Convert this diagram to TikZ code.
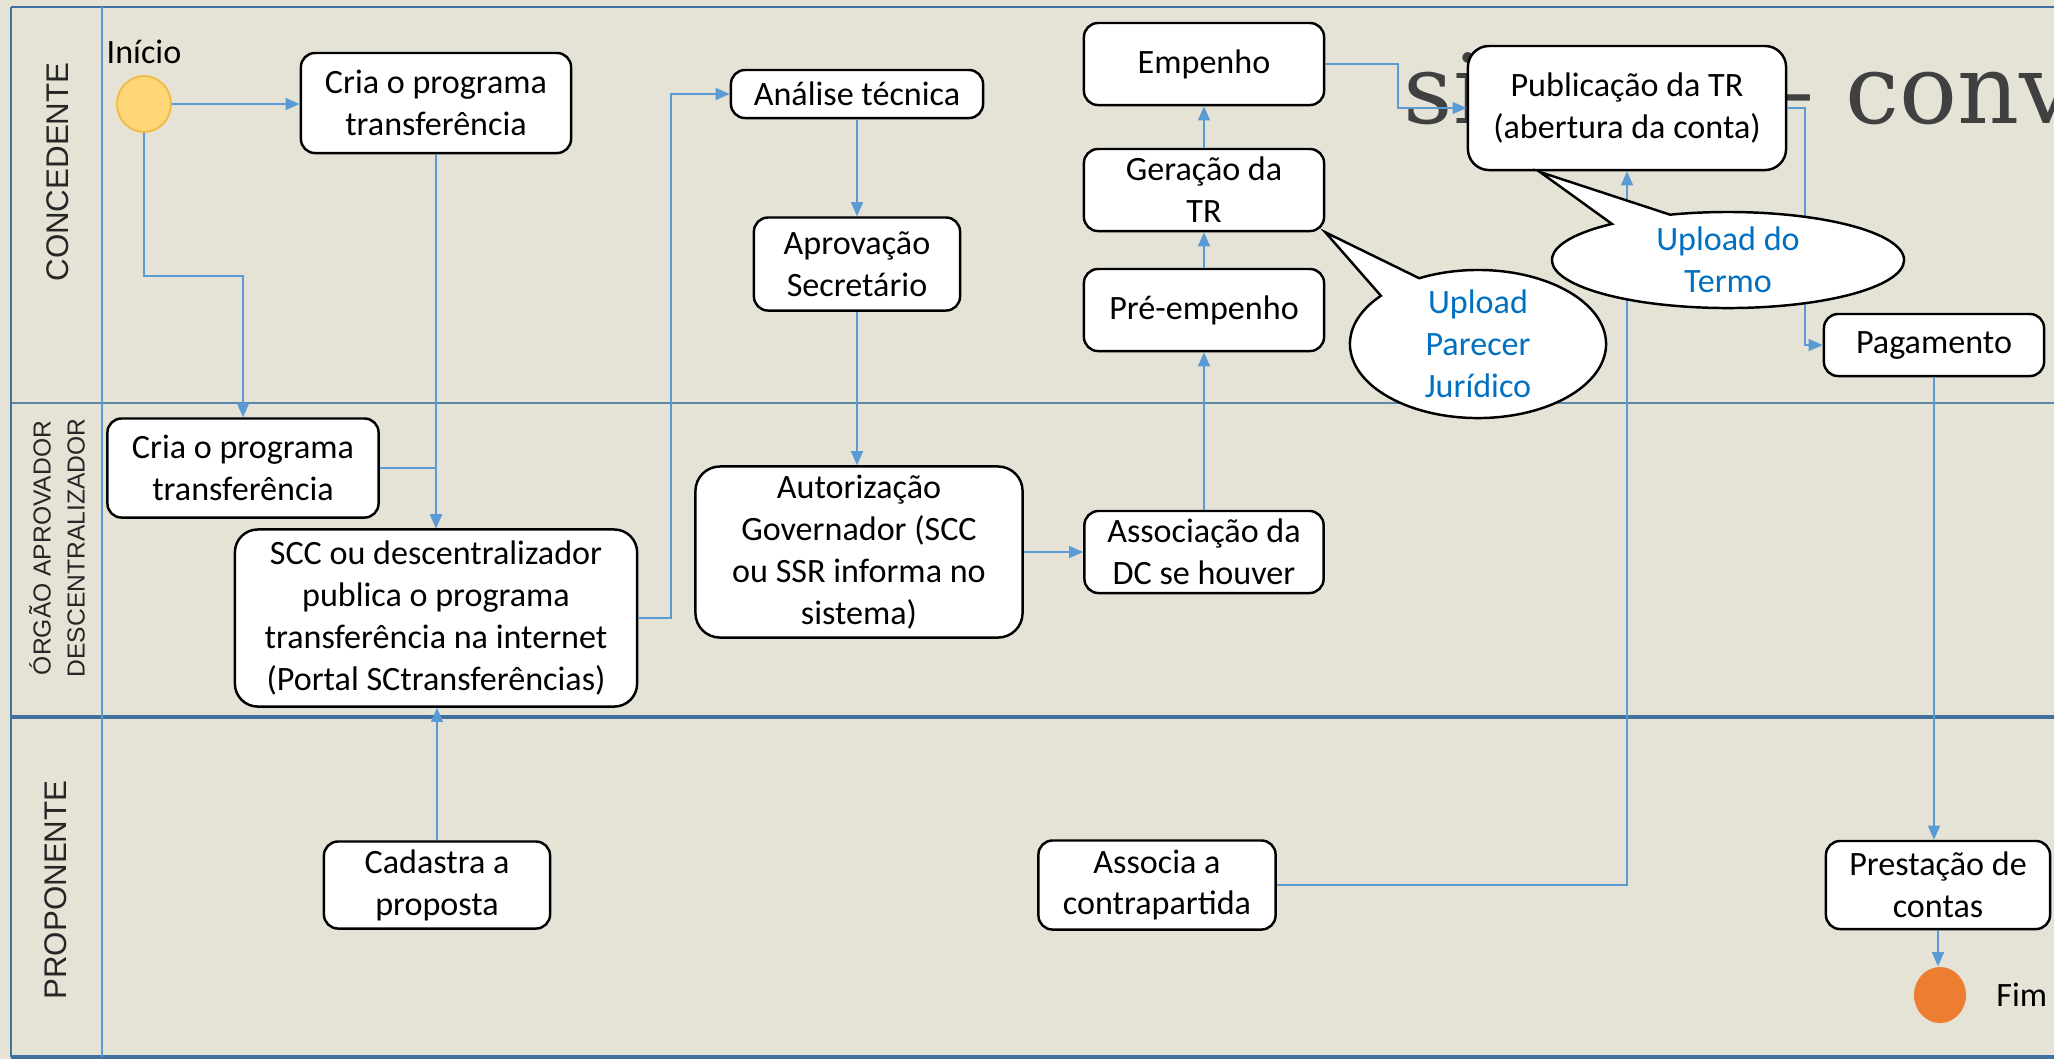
\documentclass[tikz,border=0pt]{standalone}
\usepackage{fontspec}
\setmainfont{Carlito}
\newfontfamily\lanefont{Liberation Sans}
\newfontfamily\titlefont{DejaVu Serif}
\usetikzlibrary{arrows.meta,shapes.geometric,shapes.callouts}
\definecolor{paper}{RGB}{229,226,214}
\definecolor{laneblue}{RGB}{65,113,156}
\definecolor{flowblue}{RGB}{91,155,213}
\definecolor{notetext}{RGB}{0,112,192}
\definecolor{startfill}{RGB}{255,214,120}
\definecolor{startline}{RGB}{244,185,66}
\definecolor{endfill}{RGB}{237,125,49}
\definecolor{titlegrey}{RGB}{64,64,64}

\begin{document}
\begin{tikzpicture}[x=0.01cm,y=-0.01cm,
    task/.style={draw=black,line width=0.7pt,fill=white,rounded corners=4pt,
      align=center,inner sep=0pt,font=\fontsize{9.7}{11.9}\selectfont},
    flow/.style={draw=flowblue,line width=0.45pt,-{Triangle[length=4pt,width=3.4pt]}},
    note/.style={ellipse callout,draw=black,line width=0.7pt,fill=white,
      callout pointer arc=22,inner sep=0pt},
    notetxt/.style={text=notetext,align=center,font=\fontsize{9.7}{11.9}\selectfont},
    lanetxt/.style={rotate=90,align=center,text=black!85}]

    % fundo
    \useasboundingbox (0,0) rectangle (2054,1059);
    \fill[paper] (0,0) rectangle (2054,1059);

    % titulo do slide por tras
    \node[anchor=base west,inner sep=0pt,text=titlegrey,
      font=\titlefont\fontsize{27.4}{32}\selectfont] (tit1) at (1403,123) {si};
    \node[anchor=base west,inner sep=0pt,text=titlegrey,
      font=\titlefont\fontsize{27.4}{32}\selectfont] (tit2) at (1766,123) {– conv};

    % raias
    \draw[laneblue,line width=0.8pt] (11,7) -- (2070,7);
    \draw[laneblue!85!white,line width=0.6pt] (11,403) -- (2070,403);
    \draw[laneblue,line width=1.2pt] (11,717) -- (2070,717);
    \draw[laneblue,line width=1pt] (11,1057) -- (2070,1057);
    \draw[laneblue,line width=0.7pt] (11,7) -- (11,1057);
    \draw[flowblue,line width=0.35pt] (102,7) -- (102,1057);

    \node[lanetxt,font=\lanefont\fontsize{8.9}{10}\selectfont] (lane1) at (58,172) {CONCEDENTE};
    \node[lanetxt,font=\lanefont\fontsize{7}{9.7}\selectfont] (lane2) at (57,548) {ÓRGÃO APROVADOR\\DESCENTRALIZADOR};
    \node[lanetxt,font=\lanefont\fontsize{8.9}{10}\selectfont] (lane3) at (56,890) {PROPONENTE};

    % inicio e fim
    \node[ellipse,draw=startline,fill=startfill,line width=0.5pt,inner sep=0pt,
      minimum width=0.54cm,minimum height=0.56cm] (inicio) at (144,104) {};
    \node[font=\fontsize{9.7}{11.9}\selectfont] (inicioTxt) at (144,52) {Início};
    \node[ellipse,fill=endfill,inner sep=0pt,
      minimum width=0.52cm,minimum height=0.56cm] (fim) at (1940,995) {};
    \node[anchor=west,font=\fontsize{9.7}{11.9}\selectfont] (fimTxt) at (1984,995) {Fim};

    % concedente
    \node[task,minimum width=2.70cm,minimum height=1.00cm] (criaC) at (436,103) {Cria o programa\\transferência};
    \node[task,minimum width=2.52cm,minimum height=0.48cm] (analise) at (857,94) {Análise técnica};
    \node[task,minimum width=2.06cm,minimum height=0.93cm] (aprov) at (857,264) {Aprovação\\Secretário};
    \node[task,minimum width=2.40cm,minimum height=0.82cm] (empenho) at (1204,64) {Empenho};
    \node[task,minimum width=2.40cm,minimum height=0.82cm] (geracao) at (1204,190) {Geração da\\TR};
    \node[task,minimum width=2.40cm,minimum height=0.82cm] (pre) at (1204,310) {Pré-empenho};
    \node[task,rounded corners=6pt,minimum width=3.18cm,minimum height=1.24cm] (publ) at (1627,108) {Publicação da TR\\(abertura da conta)};
    \node[task,minimum width=2.20cm,minimum height=0.62cm] (pag) at (1934,345) {Pagamento};

    % orgao aprovador
    \node[task,minimum width=2.71cm,minimum height=0.99cm] (criaO) at (243,468) {Cria o programa\\transferência};
    \node[task,rounded corners=6.5pt,minimum width=4.02cm,minimum height=1.77cm] (scc) at (436,618) {SCC ou descentralizador\\publica o programa\\transferência na internet\\(Portal SCtransferências)};
    \node[task,rounded corners=7pt,minimum width=3.27cm,minimum height=1.71cm] (autor) at (859,552) {Autorização\\Governador (SCC\\ou SSR informa no\\sistema)};
    \node[task,minimum width=2.39cm,minimum height=0.82cm] (assoc) at (1204,552) {Associação da\\DC se houver};

    % proponente
    \node[task,minimum width=2.26cm,minimum height=0.87cm] (cadastra) at (437,885) {Cadastra a\\proposta};
    \node[task,minimum width=2.37cm,minimum height=0.89cm] (associa) at (1157,885) {Associa a\\contrapartida};
    \node[task,minimum width=2.24cm,minimum height=0.88cm] (prest) at (1938,885) {Prestação de\\contas};

    % fluxo
    \coordinate (k1) at (190,276);
    \coordinate (k2) at (671,0);
    \coordinate (k3) at (1398,0);
    \coordinate (k4) at (1805,0);
    \draw[flow] (inicio.east) -- (inicio.east -| criaC.west);
    \draw[flow] (inicio.south) |- (k1) -| (criaO.north);
    \draw[flow] (criaC.south) -- (criaC.south |- scc.north);
    \draw[flow] (criaO.east) -| (scc.north);
    \draw[flow] (cadastra.north) -- (cadastra.north |- scc.south);
    \draw[flow] (scc.east) -| (k2 |- analise.west) -- (analise.west);
    \draw[flow] (analise.south) -- (aprov.north);
    \draw[flow] (aprov.south) -- (aprov.south |- autor.north);
    \draw[flow] (autor.east) -- (autor.east -| assoc.west);
    \draw[flow] (assoc.north) -- (pre.south);
    \draw[flow] (pre.north) -- (geracao.south);
    \draw[flow] (geracao.north) -- (empenho.south);
    \draw[flow] (empenho.east) -| (k3 |- publ.west) -- (publ.west);
    \draw[flow] (publ.east) -| (k4 |- pag.west) -- (pag.west);
    \draw[flow] (pag.south) -- (pag.south |- prest.north);
    \draw[flow] (prest.south) -- (prest.south |- fim.north);
    \draw[flow] (associa.east) -| (publ.south);

    % baloes
    \node[note,minimum width=2.56cm,minimum height=1.48cm,
      callout absolute pointer={(geracao.south east)}] (parecer) at (1478,344) {};
    \node[notetxt] (parecerTxt) at (parecer.center) {Upload\\Parecer\\Jurídico};
    \coordinate (tipT) at (1540,172);
    \node[note,minimum width=3.52cm,minimum height=0.96cm,
      callout absolute pointer={(tipT)}] (termo) at (1728,260) {};
    \node[notetxt] (termoTxt) at (termo.center) {Upload do\\Termo};
    \end{tikzpicture}
\end{document}
